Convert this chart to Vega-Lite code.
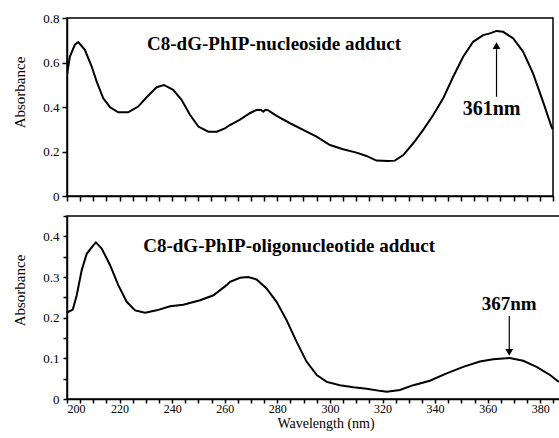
{
  "$schema": "https://vega.github.io/schema/vega-lite/v6.json",
  "padding": {"left": 11, "top": 11, "right": 0, "bottom": 0},
  "background": "white",
  "bounds": "flush",
  "spacing": 20,
  "datasets": {
    "nuc": [
      {"wl": 200.0, "abs": 0.545}, {"wl": 201.1, "abs": 0.627}, {"wl": 203.0, "abs": 0.680}, {"wl": 204.3, "abs": 0.692},
      {"wl": 206.8, "abs": 0.657}, {"wl": 209.4, "abs": 0.582}, {"wl": 211.3, "abs": 0.514}, {"wl": 213.8, "abs": 0.439},
      {"wl": 216.4, "abs": 0.399}, {"wl": 219.5, "abs": 0.376}, {"wl": 223.3, "abs": 0.376}, {"wl": 227.1, "abs": 0.402},
      {"wl": 230.3, "abs": 0.444}, {"wl": 234.1, "abs": 0.489}, {"wl": 236.9, "abs": 0.499}, {"wl": 240.4, "abs": 0.477},
      {"wl": 243.6, "abs": 0.432}, {"wl": 246.8, "abs": 0.365}, {"wl": 250.0, "abs": 0.312}, {"wl": 253.8, "abs": 0.289},
      {"wl": 257.0, "abs": 0.289}, {"wl": 260.1, "abs": 0.304}, {"wl": 262.0, "abs": 0.319}, {"wl": 265.7, "abs": 0.342},
      {"wl": 269.6, "abs": 0.372}, {"wl": 272.2, "abs": 0.387}, {"wl": 273.8, "abs": 0.388}, {"wl": 274.7, "abs": 0.379},
      {"wl": 275.5, "abs": 0.387}, {"wl": 276.5, "abs": 0.386}, {"wl": 279.8, "abs": 0.360}, {"wl": 284.9, "abs": 0.327},
      {"wl": 289.9, "abs": 0.297}, {"wl": 295.0, "abs": 0.267}, {"wl": 300.1, "abs": 0.229}, {"wl": 305.1, "abs": 0.210},
      {"wl": 310.2, "abs": 0.195}, {"wl": 314.0, "abs": 0.180}, {"wl": 317.8, "abs": 0.159}, {"wl": 322.3, "abs": 0.157},
      {"wl": 324.8, "abs": 0.159}, {"wl": 328.0, "abs": 0.184}, {"wl": 331.8, "abs": 0.237}, {"wl": 335.6, "abs": 0.297},
      {"wl": 339.4, "abs": 0.364}, {"wl": 343.2, "abs": 0.439}, {"wl": 347.0, "abs": 0.536}, {"wl": 350.8, "abs": 0.626},
      {"wl": 354.6, "abs": 0.693}, {"wl": 358.4, "abs": 0.723}, {"wl": 361.0, "abs": 0.731}, {"wl": 363.5, "abs": 0.742},
      {"wl": 366.0, "abs": 0.738}, {"wl": 369.8, "abs": 0.709}, {"wl": 373.6, "abs": 0.649}, {"wl": 377.4, "abs": 0.551},
      {"wl": 381.2, "abs": 0.424}, {"wl": 384.4, "abs": 0.312}, {"wl": 384.9, "abs": 0.300}
    ],
    "oligo": [
      {"wl": 200.0, "abs": 0.212}, {"wl": 200.5, "abs": 0.214}, {"wl": 202.2, "abs": 0.220}, {"wl": 203.7, "abs": 0.255},
      {"wl": 205.6, "abs": 0.317}, {"wl": 207.5, "abs": 0.357}, {"wl": 210.0, "abs": 0.378}, {"wl": 211.0, "abs": 0.385},
      {"wl": 213.2, "abs": 0.370}, {"wl": 216.4, "abs": 0.329}, {"wl": 219.5, "abs": 0.280}, {"wl": 222.7, "abs": 0.239},
      {"wl": 225.9, "abs": 0.218}, {"wl": 229.7, "abs": 0.212}, {"wl": 234.1, "abs": 0.218}, {"wl": 239.2, "abs": 0.228},
      {"wl": 244.2, "abs": 0.232}, {"wl": 250.6, "abs": 0.243}, {"wl": 255.7, "abs": 0.255}, {"wl": 260.7, "abs": 0.280},
      {"wl": 262.0, "abs": 0.288}, {"wl": 265.8, "abs": 0.298}, {"wl": 268.9, "abs": 0.300}, {"wl": 272.1, "abs": 0.294},
      {"wl": 275.9, "abs": 0.272}, {"wl": 279.7, "abs": 0.239}, {"wl": 283.5, "abs": 0.194}, {"wl": 287.3, "abs": 0.141},
      {"wl": 291.1, "abs": 0.092}, {"wl": 295.0, "abs": 0.059}, {"wl": 298.8, "abs": 0.042}, {"wl": 303.8, "abs": 0.034},
      {"wl": 308.9, "abs": 0.029}, {"wl": 314.0, "abs": 0.025}, {"wl": 319.0, "abs": 0.020}, {"wl": 321.6, "abs": 0.018},
      {"wl": 326.6, "abs": 0.022}, {"wl": 331.7, "abs": 0.034}, {"wl": 338.0, "abs": 0.045}, {"wl": 344.4, "abs": 0.063},
      {"wl": 350.7, "abs": 0.079}, {"wl": 357.0, "abs": 0.092}, {"wl": 362.1, "abs": 0.098}, {"wl": 368.4, "abs": 0.101},
      {"wl": 373.5, "abs": 0.094}, {"wl": 378.6, "abs": 0.079}, {"wl": 383.7, "abs": 0.059}, {"wl": 387.1, "abs": 0.042}
    ]
  },
  "vconcat": [
    {
      "width": 486,
      "height": 178,
      "layer": [
        {
          "data": {"name": "nuc"},
          "mark": {"type": "line", "color": "black", "strokeWidth": 2, "clip": true},
          "encoding": {
            "x": {"field": "wl", "type": "quantitative",
              "scale": {"domain": [200, 385], "nice": false, "zero": false},
              "axis": {"tickCount": 37, "labels": false, "title": null, "ticks": true, "tickSize": 5, "tickWidth": 1.5, "tickColor": "#000000", "tickOpacity": 1}},
            "y": {"field": "abs", "type": "quantitative",
              "scale": {"domain": [0, 0.8], "nice": false},
              "axis": {"tickCount": 4, "format": ".1~f", "title": "Absorbance",
                "titleX": -40, "titleY": 74, "ticks": true, "tickSize": 5, "tickWidth": 1.5, "tickColor": "#000000", "tickOpacity": 1, "labelPadding": 3}}
          }
        },
        {
          "data": {"values": [{"wl": 278.8, "abs": 0.656, "label": "C8-dG-PhIP-nucleoside adduct"}]},
          "mark": {"type": "text", "font": "Liberation Serif", "fontWeight": "bold", "fontSize": 19, "baseline": "alphabetic", "align": "center", "color": "black"},
          "encoding": {
            "x": {"field": "wl", "type": "quantitative"},
            "y": {"field": "abs", "type": "quantitative"},
            "text": {"field": "label"}
          }
        },
        {
          "data": {"values": [{"wl": 361.6, "abs": 0.364, "label": "361nm"}]},
          "mark": {"type": "text", "font": "Liberation Serif", "fontWeight": "bold", "fontSize": 20, "baseline": "alphabetic", "align": "center", "color": "black"},
          "encoding": {
            "x": {"field": "wl", "type": "quantitative"},
            "y": {"field": "abs", "type": "quantitative"},
            "text": {"field": "label"}
          }
        },
        {
          "data": {"values": [{"wl": 363.5, "abs": 0.446, "abs2": 0.66}]},
          "mark": {"type": "rule", "color": "black", "strokeWidth": 1.2},
          "encoding": {
            "x": {"field": "wl", "type": "quantitative"},
            "y": {"field": "abs", "type": "quantitative"},
            "y2": {"field": "abs2"}
          }
        },
        {
          "data": {"values": [{"wl": 363.5, "abs": 0.6755}]},
          "mark": {"type": "point", "shape": "triangle-up", "filled": true, "color": "black", "opacity": 1, "size": 60},
          "encoding": {
            "x": {"field": "wl", "type": "quantitative"},
            "y": {"field": "abs", "type": "quantitative"}
          }
        }
      ]
    },
    {
      "width": 493,
      "height": 183,
      "layer": [
        {
          "data": {"name": "oligo"},
          "mark": {"type": "line", "color": "black", "strokeWidth": 2, "clip": true},
          "encoding": {
            "x": {"field": "wl", "type": "quantitative",
              "scale": {"domain": [200, 387.5], "nice": false, "zero": false},
              "axis": {"tickCount": 37, "labelOverlap": false,
                "labelExpr": "datum.value % 20 == 0 ? datum.label : ''", "title": "Wavelength (nm)",
                "ticks": true, "tickSize": 4, "tickWidth": 1.5, "tickColor": "#000000", "tickOpacity": 1,
                "labelPadding": 0, "labelFontSize": 12, "titleFontSize": 14,
                "titleX": 258.5, "titleY": 28.5, "titleBaseline": "alphabetic"}},
            "y": {"field": "abs", "type": "quantitative",
              "scale": {"domain": [0, 0.45], "nice": false},
              "axis": {"tickCount": 9, "labelOverlap": false, "labelExpr": "datum.value == 0 ? '0' : (round(datum.value * 100) % 10 == 0 ? format(datum.value, '.1f') : '')",
                "title": "Absorbance", "titleX": -40, "titleY": 74, "ticks": true, "tickSize": 4, "tickWidth": 1.5, "tickColor": "#000000", "tickOpacity": 1, "labelPadding": 4}}
          }
        },
        {
          "data": {"values": [{"wl": 284.5, "abs": 0.361, "label": "C8-dG-PhIP-oligonucleotide adduct"}, {"wl": 368.2, "abs": 0.218, "label": "367nm"}]},
          "mark": {"type": "text", "font": "Liberation Serif", "fontWeight": "bold", "fontSize": 19, "baseline": "alphabetic", "align": "center", "color": "black"},
          "encoding": {
            "x": {"field": "wl", "type": "quantitative"},
            "y": {"field": "abs", "type": "quantitative"},
            "text": {"field": "label"}
          }
        },
        {
          "data": {"values": [{"wl": 368.2, "abs": 0.204, "abs2": 0.12}]},
          "mark": {"type": "rule", "color": "black", "strokeWidth": 1.2},
          "encoding": {
            "x": {"field": "wl", "type": "quantitative"},
            "y": {"field": "abs", "type": "quantitative"},
            "y2": {"field": "abs2"}
          }
        },
        {
          "data": {"values": [{"wl": 368.2, "abs": 0.1146}]},
          "mark": {"type": "point", "shape": "triangle-down", "filled": true, "color": "black", "opacity": 1, "size": 60},
          "encoding": {
            "x": {"field": "wl", "type": "quantitative"},
            "y": {"field": "abs", "type": "quantitative"}
          }
        }
      ]
    }
  ],
  "config": {
    "view": {"stroke": "black", "strokeWidth": 1.5},
    "axis": {
      "labelFont": "Liberation Serif", "titleFont": "Liberation Serif",
      "labelColor": "black", "titleColor": "black", "domainColor": "black", "tickColor": "black",
      "domainWidth": 1.5, "ticks": true, "grid": false, "labelFontSize": 13, "titleFontSize": 15, "titleFontWeight": "normal"
    }
  }
}
